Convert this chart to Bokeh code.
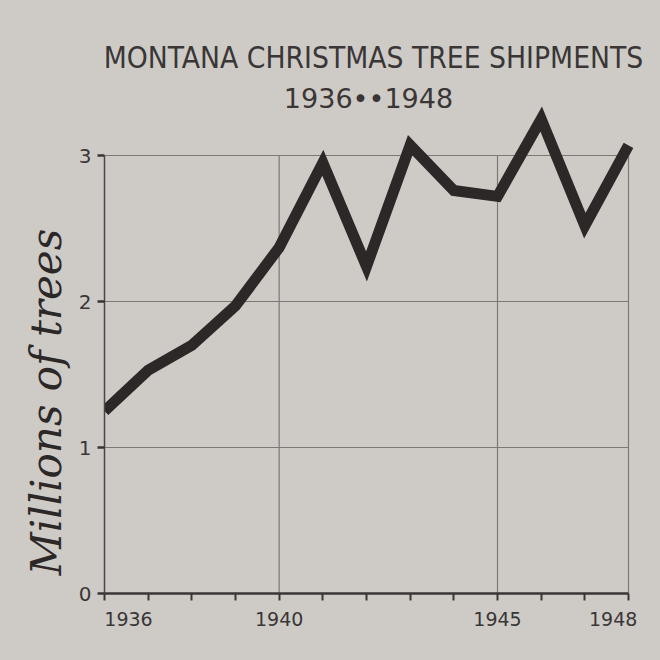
from bokeh.plotting import figure
from bokeh.models import Range1d, FixedTicker, LinearAxis, Label
from bokeh.embed import file_html
from bokeh.resources import INLINE

# ---- data ----
years = [1936, 1937, 1938, 1939, 1940, 1941, 1942, 1943, 1944, 1945, 1946, 1947, 1948]
shipments = [1.25, 1.53, 1.70, 1.97, 2.37, 2.95, 2.24, 3.07, 2.76, 2.72, 3.25, 2.52, 3.07]
y_ticks = [0, 1, 2, 3]
label_years = [1936, 1940, 1945, 1948]
grid_years = [1940, 1945, 1948]
title_text = "MONTANA CHRISTMAS TREE SHIPMENTS"
subtitle_text = "1936\u2022\u20221948"
y_title = "Millions of trees"

# ---- style / layout ----
PAPER = "#cecbc7"
INK = "#2d2828"
TXT = "#3a3636"
GRID = "#7d7876"

W = H = 660
FRAME_L, DATA_R, FRAME_R = 104, 628, 650     # pixel columns
FRAME_B = 593                                # pixel row of zero
PX_PER_UNIT = 146.0
px_per_year = (DATA_R - FRAME_L) / (years[-1] - years[0])
x_end = years[-1] + (FRAME_R - DATA_R) / px_per_year
y_end = FRAME_B / PX_PER_UNIT

p = figure(width=W, height=H, output_backend="svg", toolbar_location=None,
           x_range=Range1d(years[0], x_end), y_range=Range1d(0, y_end),
           x_axis_type=None, y_axis_type=None,
           min_border_left=FRAME_L, min_border_right=W - FRAME_R,
           min_border_top=0, min_border_bottom=H - FRAME_B)
p.background_fill_color = PAPER
p.border_fill_color = PAPER
p.outline_line_color = None

# y axis
yax = LinearAxis(ticker=FixedTicker(ticks=y_ticks), bounds=(y_ticks[0], y_ticks[-1]))
yax.axis_line_color = "#4a4545"
yax.axis_line_width = 1.5
yax.major_tick_out = 7
yax.major_tick_in = 0
yax.major_tick_line_color = "#3a3535"
yax.major_tick_line_width = 2.5
yax.minor_tick_line_color = None
yax.major_label_text_font = "DejaVu Sans"
yax.major_label_text_font_size = "20px"
yax.major_label_text_color = TXT
yax.major_label_standoff = 6
# the title sits low beside the 0-3 scale: pad its upper end with em spaces
yax.axis_label = y_title + "\u2003" * 5
yax.axis_label_text_font = "DejaVu Serif"
yax.axis_label_text_font_style = "italic"
yax.axis_label_text_font_size = "42px"
yax.axis_label_text_color = INK
yax.axis_label_standoff = 5
p.add_layout(yax, "left")

# x axis: tick marks only (no labels)
xax = LinearAxis(ticker=FixedTicker(ticks=[], minor_ticks=years),
                 bounds=(years[0], years[-1]))
xax.axis_line_color = "#3b3636"
xax.axis_line_width = 2.5
xax.minor_tick_out = 7
xax.minor_tick_in = 0
xax.minor_tick_line_width = 2
xax.minor_tick_line_color = "#3b3636"
xax.major_tick_line_color = None
p.add_layout(xax, "below")

# x axis: labels (edge labels nudged inward, as in the original)
nudge = {1936: 0.55, 1948: -0.35}
label_pos = [y + nudge.get(y, 0.0) for y in label_years]
xlab = LinearAxis(ticker=FixedTicker(ticks=label_pos),
                  major_label_overrides={lp: str(y) for lp, y in zip(label_pos, label_years)})
xlab.axis_line_color = None
xlab.major_tick_line_color = None
xlab.minor_tick_line_color = None
xlab.major_tick_out = 0
xlab.major_label_standoff = 11
xlab.major_label_text_font = "DejaVu Sans"
xlab.major_label_text_font_size = "19px"
xlab.major_label_text_color = TXT
p.add_layout(xlab, "below")

# grids
p.segment(x0=grid_years, y0=[y_ticks[0]] * len(grid_years),
          x1=grid_years, y1=[y_ticks[-1]] * len(grid_years),
          line_color=GRID, line_width=1.2)
p.segment(x0=[years[0]] * 3, y0=y_ticks[1:], x1=[years[-1]] * 3, y1=y_ticks[1:],
          line_color=GRID, line_width=1.2)

# the data line
p.line(years, shipments, line_color=INK, line_width=11, line_join="miter", line_cap="butt")

# titles
mid = (years[0] + years[-1]) / 2
p.add_layout(Label(x=mid, y=3.67, text=title_text, text_align="center", text_baseline="middle",
                   text_font="DejaVu Sans Condensed", text_font_size="29.7px", text_color=TXT,
                   x_offset=7))
p.add_layout(Label(x=mid, y=3.39, text=subtitle_text, text_align="center", text_baseline="middle",
                   text_font="DejaVu Sans", text_font_size="27px", text_color=TXT, x_offset=2))

html = file_html(p, INLINE)
html = html.replace("</head>", "<style>html, body { background-color: %s; }</style>\n</head>" % PAPER, 1)
open("out.html", "w").write(html)
